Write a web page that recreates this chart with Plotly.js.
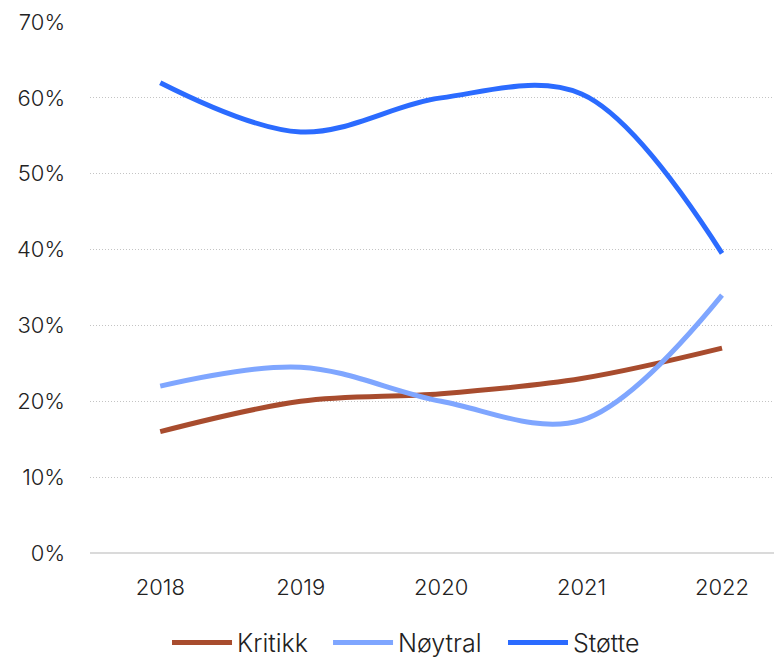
<!DOCTYPE html>
<html>
<head>
<meta charset="utf-8">
<script src="https://cdn.plot.ly/plotly-3.0.1.min.js"></script>
<style>html,body{margin:0;padding:0;background:#fff;}#chart{width:774px;height:660px;}</style>
</head>
<body>
<div id="chart"></div>
<script>
var years = [2018, 2019, 2020, 2021, 2022];
var kritikk = [0.16, 0.20, 0.21, 0.23, 0.27];
var noytral = [0.22, 0.245, 0.20, 0.175, 0.34];
var stotte = [0.62, 0.555, 0.60, 0.605, 0.395];
var names = ["Kritikk", "Nøytral", "Støtte"];
var colors = ["#A84C2E", "#7FA6FF", "#2B6BFF"];
var series = [kritikk, noytral, stotte];
var legendIds = ["legend", "legend2", "legend3"];
var legendX = [0.1126, 0.348, 0.6038];

var traces = series.map(function(s, i) {
  return {
    x: years, y: s, name: names[i], type: "scatter", mode: "lines",
    line: {color: colors[i], width: 5, shape: "spline", smoothing: 1},
    legend: legendIds[i],
    hoverinfo: "skip"
  };
});

var layout = {
  width: 774, height: 660,
  margin: {l: 90, r: 0, t: 22, b: 107, autoexpand: false},
  paper_bgcolor: "#fff", plot_bgcolor: "#fff",
  font: {family: "Inter, 'Open Sans', sans-serif", size: 22, color: "#222", weight: 300},
  showlegend: true,
  xaxis: {
    range: [2017.5, 2022.37], tickvals: years, ticktext: years.map(String),
    showgrid: false, zeroline: false, showline: false, ticks: "",
    ticklabelstandoff: 19,
    tickfont: {size: 22, color: "#222", weight: 300}, fixedrange: true
  },
  yaxis: {
    range: [0, 0.7], dtick: 0.1, tickformat: ".0%",
    showgrid: true, gridcolor: "#c4c4c4", griddash: "1px,2px", gridwidth: 1,
    zeroline: true, zerolinecolor: "#dadada", zerolinewidth: 2,
    showline: false, ticks: "", ticklabelstandoff: 24,
    tickfont: {size: 22, color: "#222", weight: 300}, fixedrange: true
  }
};
legendIds.forEach(function(id, i) {
  layout[id] = {orientation: "h", x: legendX[i], xanchor: "left", y: -0.169, yanchor: "middle",
    font: {size: 25, color: "#222", weight: 300}, itemwidth: 60, bgcolor: "rgba(0,0,0,0)"};
});

Plotly.newPlot("chart", traces, layout, {displayModeBar: false, staticPlot: true});
</script>
</body>
</html>
